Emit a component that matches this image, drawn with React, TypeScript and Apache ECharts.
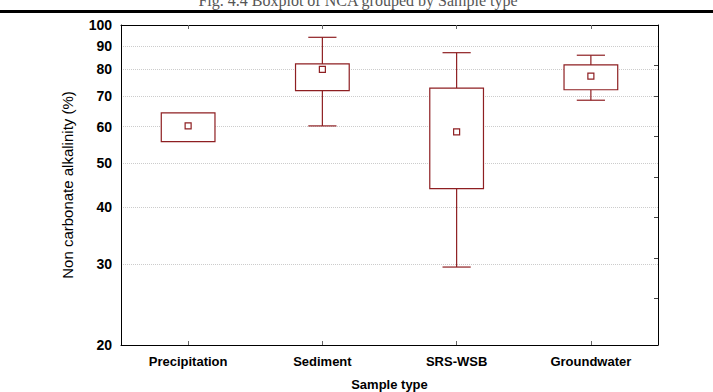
import { useEffect, useRef } from 'react';
import * as echarts from 'echarts';

const categories = ['Precipitation', 'Sediment', 'SRS-WSB', 'Groundwater'];
const whiskerLow = [55.6, 60.2, 29.6, 68.5];
const q1 = [55.6, 71.9, 43.9, 72.2];
const median = [60.2, 80.0, 58.4, 77.3];
const q3 = [64.3, 82.2, 72.8, 81.8];
const whiskerHigh = [64.3, 94.0, 87.0, 85.9];
const yTicks = [20, 30, 40, 50, 60, 70, 80, 90, 100];
const rightTicks = [25.3, 31, 38.1, 46.6, 57.1, 70, 81.5];
const titleText = 'Fig. 4.4 Boxplot of NCA grouped by Sample type';

const RED = '#8e1f22';

export default function App() {
  const ref = useRef<HTMLDivElement>(null);
  useEffect(() => {
    if (!ref.current) return;
    const chart = echarts.init(ref.current, null, { renderer: 'svg' });
    const data = categories.map((_, i) => [i, whiskerLow[i], q1[i], median[i], q3[i], whiskerHigh[i]]);
    chart.setOption({
      animation: false,
      backgroundColor: '#ffffff',
      grid: { left: 121, right: 55, top: 25, bottom: 47, containLabel: false, outerBoundsMode: 'none' },
      graphic: [
        {
          type: 'text',
          x: 358,
          y: 8,
          style: {
            text: titleText,
            align: 'center',
            verticalAlign: 'bottom',
            font: '16px "Liberation Serif", serif',
            fill: '#555555',
          },
        },
        {
          type: 'rect',
          shape: { x: 0, y: 10, width: 713, height: 3 },
          style: { fill: '#000000' },
        },
      ],
      xAxis: [
        {
          type: 'category',
          data: categories,
          position: 'bottom',
          boundaryGap: true,
          axisLine: { show: true, lineStyle: { color: '#000', width: 1 } },
          axisTick: { show: true, inside: true, alignWithLabel: true, length: 4, lineStyle: { color: '#666' } },
          axisLabel: {
            margin: 10,
            fontFamily: '"Liberation Sans", Arial, sans-serif',
            fontSize: 13,
            fontWeight: 'bold',
            color: '#000',
          },
          splitLine: { show: false },
          name: 'Sample type',
          nameLocation: 'middle',
          nameGap: 33,
          nameTextStyle: {
            fontFamily: '"Liberation Sans", Arial, sans-serif',
            fontSize: 13,
            fontWeight: 'bold',
            color: '#000',
          },
        },
        {
          type: 'category',
          data: categories,
          position: 'top',
          boundaryGap: true,
          axisLine: { show: true, lineStyle: { color: '#000', width: 1 } },
          axisTick: { show: true, inside: true, alignWithLabel: true, length: 4, lineStyle: { color: '#666' } },
          axisLabel: { show: false },
          splitLine: { show: false },
        },
      ],
      yAxis: [
        {
          type: 'log',
          logBase: 10,
          min: 20,
          max: 100,
          position: 'left',
          axisLine: { show: true, lineStyle: { color: '#000', width: 1 } },
          axisTick: { show: false, customValues: yTicks },
          axisLabel: {
            customValues: yTicks,
            margin: 9,
            fontFamily: '"Liberation Sans", Arial, sans-serif',
            fontSize: 14,
            fontWeight: 'bold',
            color: '#000',
          },
          splitLine: { show: true, lineStyle: { color: '#cccccc', type: 'dotted', width: 1 } },
          name: 'Non carbonate alkalinity (%)',
          nameLocation: 'middle',
          nameGap: 46,
          nameTextStyle: {
            fontFamily: '"Liberation Sans", Arial, sans-serif',
            fontSize: 15,
            color: '#000',
          },
        },
        {
          type: 'log',
          logBase: 10,
          min: 20,
          max: 100,
          position: 'right',
          axisLine: { show: true, lineStyle: { color: '#000', width: 1 } },
          axisTick: { show: true, inside: true, length: 4, customValues: rightTicks, lineStyle: { color: '#444' } },
          axisLabel: { show: false },
          splitLine: { show: false },
        },
      ],
      series: [
        {
          type: 'custom',
          xAxisIndex: 0,
          yAxisIndex: 0,
          encode: { x: 0, y: [1, 2, 3, 4, 5] },
          data,
          renderItem: (params: any, api: any) => {
            const i = api.value(0);
            const pLow = api.coord([i, api.value(1)]);
            const pQ1 = api.coord([i, api.value(2)]);
            const pMed = api.coord([i, api.value(3)]);
            const pQ3 = api.coord([i, api.value(4)]);
            const pHigh = api.coord([i, api.value(5)]);
            const band = api.size([1, 0])[0];
            const bw = band * 0.4;
            const cw = band * 0.21;
            const cx = pMed[0];
            const lineStyle = { stroke: RED, lineWidth: 1.2, fill: null };
            const children: any[] = [];
            if (Math.abs(pHigh[1] - pQ3[1]) > 0.5) {
              children.push({ type: 'line', shape: { x1: cx, y1: pHigh[1], x2: cx, y2: pQ3[1] }, style: lineStyle });
              children.push({ type: 'line', shape: { x1: cx - cw / 2, y1: pHigh[1], x2: cx + cw / 2, y2: pHigh[1] }, style: lineStyle });
            }
            if (Math.abs(pLow[1] - pQ1[1]) > 0.5) {
              children.push({ type: 'line', shape: { x1: cx, y1: pQ1[1], x2: cx, y2: pLow[1] }, style: lineStyle });
              children.push({ type: 'line', shape: { x1: cx - cw / 2, y1: pLow[1], x2: cx + cw / 2, y2: pLow[1] }, style: lineStyle });
            }
            children.push({
              type: 'rect',
              shape: { x: cx - bw / 2, y: pQ3[1], width: bw, height: pQ1[1] - pQ3[1] },
              style: { stroke: RED, lineWidth: 1.2, fill: '#ffffff' },
            });
            children.push({
              type: 'rect',
              shape: { x: cx - 3, y: pMed[1] - 3, width: 6, height: 6 },
              style: { stroke: RED, lineWidth: 1.2, fill: '#ffffff' },
            });
            return { type: 'group', children };
          },
        },
      ],
    });
    return () => chart.dispose();
  }, []);
  return <div ref={ref} style={{ position: 'absolute', left: 0, top: 0, width: 713, height: 392 }} />;
}
